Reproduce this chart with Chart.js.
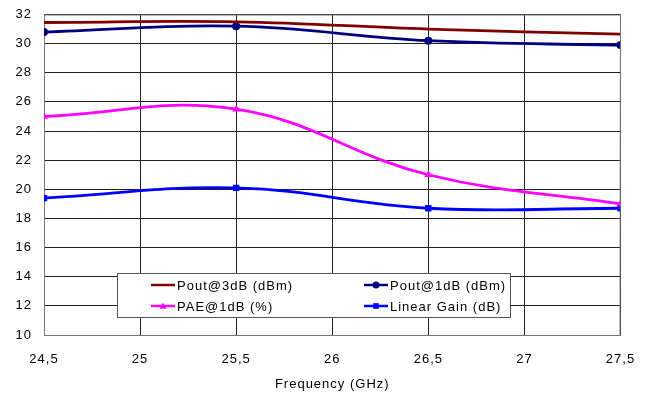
<!DOCTYPE html>
<html>
<head>
<meta charset="utf-8">
<script src="https://cdn.jsdelivr.net/npm/chart.js@4/dist/chart.umd.min.js"></script>
<style>
  html, body { margin: 0; padding: 0; background: #fff; }
  #wrap { width: 650px; height: 394px; }
</style>
</head>
<body>
<div id="wrap"><canvas id="myChart" width="650" height="394"></canvas></div>
<script>
//! Les données.

const frequences = [24.5, 25.5, 26.5, 27.5];

const pout3dB = [31.45, 31.5, 31.0, 30.65];
const pout1dB = [30.8, 31.2, 30.2, 29.9];
const pae1dB = [25.0, 25.5, 21.0, 19.0];
const linearGain = [19.4, 20.1, 18.7, 18.7];

const labelsSeries = ['Pout@3dB (dBm)', 'Pout@1dB (dBm)', 'PAE@1dB (%)', 'Linear Gain (dB)'];

//! --------------------------------------------------------------

const police = "'Liberation Sans', Arial, sans-serif";

let toPoints = (values) => frequences.map((f, i) => ({ x: f, y: values[i] }));

// petit dessin des marqueurs pour la légende
function drawMarker(ctx, style, x, y, r, color) {
  ctx.fillStyle = color;
  ctx.beginPath();
  if (style === 'circle') {
    ctx.arc(x, y, r, 0, Math.PI * 2);
  } else if (style === 'triangle') {
    ctx.moveTo(x, y - r);
    ctx.lineTo(x + r, y + r * 0.8);
    ctx.lineTo(x - r, y + r * 0.8);
    ctx.closePath();
  } else if (style === 'rect') {
    ctx.rect(x - r * 0.8, y - r * 0.8, r * 1.6, r * 1.6);
  }
  if (style) ctx.fill();
}

// espacement des lettres un peu plus large, comme dans Excel
const espacement = {
  id: 'espacement',
  beforeLayout(chart) {
    chart.ctx.letterSpacing = '1px';
  },
  beforeDraw(chart) {
    chart.ctx.letterSpacing = '1px';
  },
};

const legendeInterne = {
  id: 'legendeInterne',
  afterDraw(chart) {
    const ctx = chart.ctx;
    ctx.save();
    ctx.fillStyle = '#fff';
    ctx.fillRect(117.5, 273.5, 393, 44);
    ctx.strokeStyle = '#555';
    ctx.lineWidth = 1;
    ctx.strokeRect(117.5, 273.5, 393, 44);

    const cols = [151, 364];
    const rows = [285, 306];
    ctx.font = '13px ' + police;
    ctx.letterSpacing = '1px';
    ctx.textBaseline = 'middle';
    chart.data.datasets.forEach((ds, i) => {
      const x = cols[i % 2];
      const y = rows[Math.floor(i / 2)];
      ctx.strokeStyle = ds.borderColor;
      ctx.lineWidth = 2.5;
      ctx.beginPath();
      ctx.moveTo(x, y);
      ctx.lineTo(x + 24, y);
      ctx.stroke();
      drawMarker(ctx, ds.pointStyle && ds.pointRadius > 0 ? ds.pointStyle : null, x + 12, y, 3.5, ds.borderColor);
      ctx.fillStyle = '#000';
      ctx.fillText(ds.label, x + 26, y + 1);
    });
    ctx.restore();
  },
};

const data = {
  datasets: [
    {
      label: labelsSeries[0],
      data: toPoints(pout3dB),
      borderColor: '#800000',
      backgroundColor: '#800000',
      pointRadius: 0,
      pointStyle: false,
    },
    {
      label: labelsSeries[1],
      data: toPoints(pout1dB),
      borderColor: '#000080',
      backgroundColor: '#000080',
      pointStyle: 'circle',
      pointRadius: 4,
    },
    {
      label: labelsSeries[2],
      data: toPoints(pae1dB),
      borderColor: '#FF00FF',
      backgroundColor: '#FF00FF',
      pointStyle: 'triangle',
      pointRadius: 4.5,
    },
    {
      label: labelsSeries[3],
      data: toPoints(linearGain),
      borderColor: '#0000FF',
      backgroundColor: '#0000FF',
      pointStyle: 'rect',
      pointRadius: 4.5,
    },
  ],
};

const options = {
  responsive: false,
  animation: false,
  devicePixelRatio: 1,
  layout: { padding: { top: 14.5, right: 29.5, left: 0, bottom: 0 } },
  elements: {
    line: { borderWidth: 2.8, tension: 0.4, fill: false },
    point: { borderWidth: 0 },
  },
  plugins: {
    legend: { display: false },
    tooltip: { enabled: false },
  },
  scales: {
    x: {
      type: 'linear',
      min: 24.5,
      max: 27.5,
      afterFit: (s) => {
        s.height = 59;
        s.paddingLeft = 0;
        s.paddingRight = 0;
      },
      grid: { color: '#222', drawTicks: false },
      border: { color: '#777', width: 1 },
      ticks: {
        stepSize: 0.5,
        padding: 17,
        color: '#000',
        font: { family: police, size: 13 },
        callback: (v) => String(v).replace('.', ','),
      },
      title: {
        display: true,
        text: 'Frequency (GHz)',
        color: '#000',
        font: { family: police, size: 13 },
        padding: { top: 6, bottom: 2 },
      },
    },
    y: {
      min: 10,
      max: 32,
      afterFit: (s) => {
        s.width = 44;
        s.paddingTop = 0;
        s.paddingBottom = 0;
      },
      grid: { color: '#222', drawTicks: false },
      border: { color: '#777', width: 1 },
      ticks: {
        stepSize: 2,
        padding: 12,
        color: '#000',
        font: { family: police, size: 13 },
      },
    },
  },
};

const config = {
  type: 'line',
  data,
  options,
  plugins: [
    espacement,
    legendeInterne,
    {
      id: 'cadre',
      afterDraw(chart) {
        const a = chart.chartArea;
        const ctx = chart.ctx;
        ctx.save();
        ctx.strokeStyle = '#777';
        ctx.lineWidth = 1;
        ctx.beginPath();
        ctx.moveTo(a.left, a.top + 0.5);
        ctx.lineTo(a.right, a.top + 0.5);
        ctx.lineTo(a.right - 0.5, a.bottom);
        ctx.stroke();
        ctx.restore();
      },
    },
  ],
};

const myChart = new Chart(document.getElementById('myChart'), config);
</script>
</body>
</html>
